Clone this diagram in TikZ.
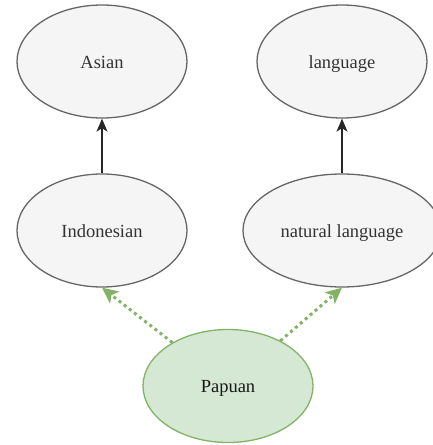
\documentclass[tikz,border=0pt]{standalone}
\usepackage{fontspec}
\setmainfont{Liberation Serif}
\usetikzlibrary{arrows.meta,shapes.geometric}
\definecolor{grayfill}{HTML}{F5F5F5}
\definecolor{graystroke}{HTML}{666666}
\definecolor{greenfill}{HTML}{D5E8D4}
\definecolor{greenstroke}{HTML}{82B366}
\definecolor{textcol}{HTML}{333333}
\begin{document}
\begin{tikzpicture}[x=1pt,y=-1pt,
  grayell/.style={ellipse, draw=graystroke, fill=grayfill, line width=1.3pt, inner sep=0pt,
    minimum width=170pt, minimum height=113pt, font=\fontsize{18.5}{21}\selectfont, text=textcol,
    text height=13pt, text depth=0pt},
  greenell/.style={grayell, draw=greenstroke, fill=greenfill, text=black!90},
  isa/.style={line width=1.5pt, draw=black!85, -{Stealth[length=13pt,width=11pt,inset=3.5pt]}},
  green arrow/.style={line width=3pt, draw=greenstroke, dash pattern=on 3pt off 3.5pt,
    -{Stealth[length=16pt,width=15pt,inset=4pt,sep=0pt]}, shorten >=0pt}]
\useasboundingbox (0,0) rectangle (433,445);
\node[grayell] (asian) at (102,61.5) {Asian};
\node[grayell] (lang) at (342,61.5) {language};
\node[grayell] (indo) at (102,230.5) {Indonesian};
\node[grayell, minimum width=198pt] (nat) at (342,230.5) {natural language};
\node[greenell] (pap) at (228,386) {Papuan};
\draw[isa] (indo) -- (asian);
\draw[isa] (nat) -- (lang);
\draw[green arrow] (pap) -- (indo.south);
\draw[green arrow] (pap) -- (nat.south);
\end{tikzpicture}
\end{document}
